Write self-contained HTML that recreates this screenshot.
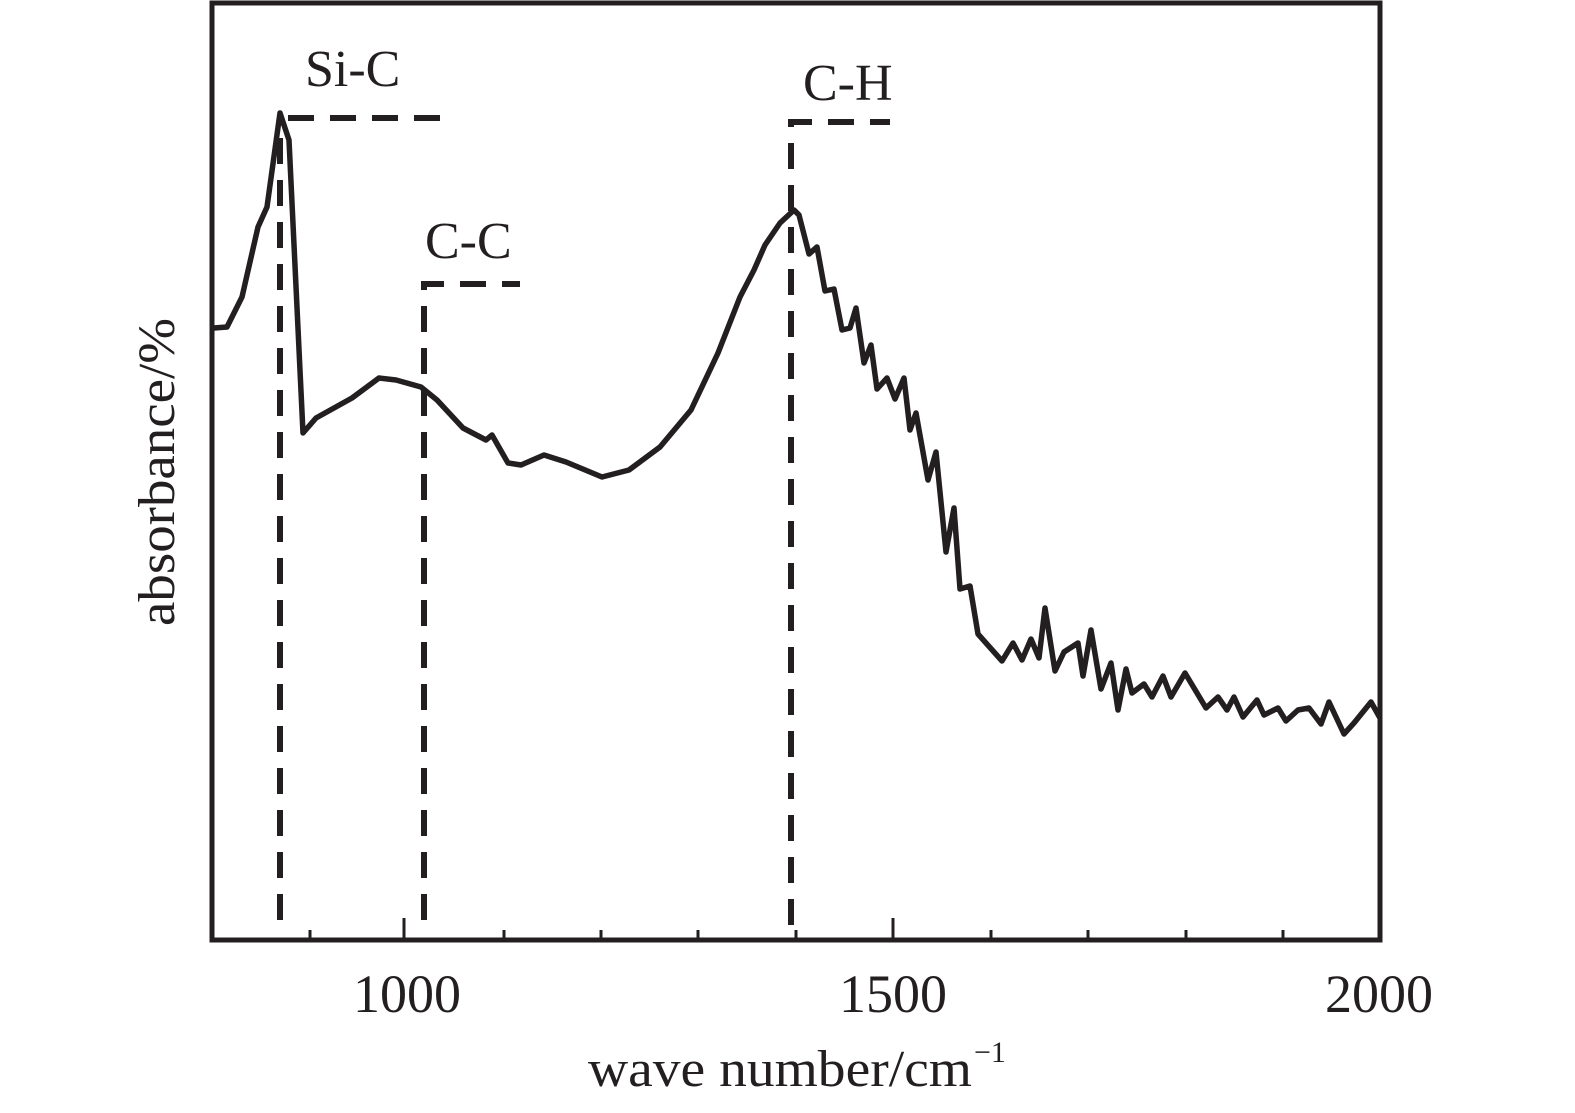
<!DOCTYPE html>
<html><head><style>html,body{margin:0;padding:0;background:#fff}svg text{font-family:"Liberation Serif","Times New Roman",serif}</style></head>
<body>
<svg width="1575" height="1108" viewBox="0 0 1575 1108" xmlns="http://www.w3.org/2000/svg" fill="#231f20">
<rect x="212" y="3" width="1168" height="937" fill="none" stroke="#231f20" stroke-width="5"/>
<g stroke="#231f20" stroke-width="3">
<line x1="310" y1="940" x2="310" y2="930"/>
<line x1="404" y1="940" x2="404" y2="918"/>
<line x1="504" y1="940" x2="504" y2="930"/>
<line x1="601" y1="940" x2="601" y2="930"/>
<line x1="698" y1="940" x2="698" y2="930"/>
<line x1="796" y1="940" x2="796" y2="930"/>
<line x1="893" y1="940" x2="893" y2="918"/>
<line x1="991" y1="940" x2="991" y2="930"/>
<line x1="1088" y1="940" x2="1088" y2="930"/>
<line x1="1186" y1="940" x2="1186" y2="930"/>
<line x1="1283" y1="940" x2="1283" y2="930"/>
</g>
<g stroke="#231f20" stroke-width="6" fill="none" stroke-dasharray="26,16">
<path d="M280 920 V118"/><path d="M288 118 H452"/>
<path d="M424 920 V284 H520"/>
<path d="M791 925 V122 H890"/>
</g>
<polyline fill="none" stroke="#231f20" stroke-width="5.5" stroke-linejoin="round" points="214,328 227,327 242,297 258,227 267,207 280,113 289,140 303,433 316,418 352,398 379,378 396,380 421,387 437,400 463,428 486,440 492,435 508,463 521,465 544,455 566,462 602,477 629,470 660,447 691,410 718,353 740,297 754,270 765,245 780,223 794,210 799,215 809,254 817,247 825,291 834,289 842,330 850,328 856,308 864,363 871,345 877,389 887,378 895,399 904,378 910,430 916,413 928,480 936,452 946,552 954,508 960,589 970,586 978,634 1002,661 1013,643 1022,660 1031,639 1039,658 1045,608 1055,671 1064,652 1078,643 1083,676 1091,630 1101,689 1111,663 1118,710 1126,669 1132,693 1144,684 1152,697 1163,676 1171,697 1185,673 1206,708 1218,697 1227,710 1234,697 1243,717 1257,700 1264,715 1278,708 1286,721 1298,710 1309,708 1321,724 1329,702 1344,734 1354,723 1371,702 1380,718"/>
<g font-size="52">
<text x="305" y="86">Si-C</text>
<text x="425" y="258">C-C</text>
<text x="803" y="100">C-H</text>
<text x="407" y="1012" text-anchor="middle" font-size="54">1000</text>
<text x="893" y="1012" text-anchor="middle" font-size="54">1500</text>
<text x="1379" y="1012" text-anchor="middle" font-size="54">2000</text>
<text x="588" y="1086" textLength="384" lengthAdjust="spacingAndGlyphs">wave number/cm</text>
<text x="974" y="1062" font-size="30">−1</text>
<text transform="translate(174,626) rotate(-90)" textLength="308" lengthAdjust="spacingAndGlyphs">absorbance/%</text>
</g>
</svg>
</body></html>
